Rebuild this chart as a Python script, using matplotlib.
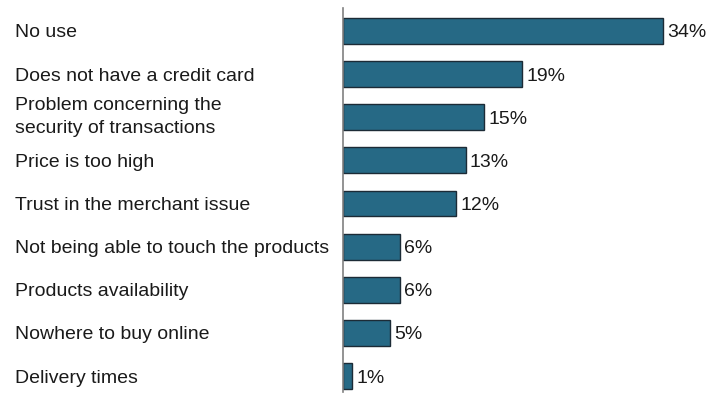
import matplotlib
matplotlib.use("Agg")
import matplotlib.pyplot as plt
from matplotlib.transforms import blended_transform_factory

plt.rcParams['font.family'] = ['Liberation Sans', 'DejaVu Sans']

categories = [
    "No use",
    "Does not have a credit card",
    "Problem concerning the\nsecurity of transactions",
    "Price is too high",
    "Trust in the merchant issue",
    "Not being able to touch the products",
    "Products availability",
    "Nowhere to buy online",
    "Delivery times",
]
values = [34, 19, 15, 13, 12, 6, 6, 5, 1]

W, H = 720, 394
fig = plt.figure(figsize=(W / 100, H / 100), dpi=100)
ax = fig.add_axes([343 / W, 2 / H, (W - 343) / W, 384 / H])

pos = list(range(len(categories)))
ax.barh(pos, values, height=0.6, color="#266985", edgecolor="#1c2b36", linewidth=1.0)

ax.set_xlim(0, 40)
ax.set_ylim(8.37, -0.53)

for s in ("top", "right", "bottom"):
    ax.spines[s].set_visible(False)
ax.spines["left"].set_color("#808080")
ax.spines["left"].set_linewidth(1.2)
ax.set_xticks([])
ax.set_yticks([])

trans = blended_transform_factory(fig.transFigure, ax.transData)
for p, c in zip(pos, categories):
    va = "center" if "\n" in c else "center_baseline"
    ax.text(15 / W, p, c, transform=trans, ha="left", va=va,
            fontsize=14, color="#1a1a1a", linespacing=1.5)

for p, v in zip(pos, values):
    ax.annotate(f"{v}%", xy=(v, p), xytext=(3, 0), textcoords="offset points",
                ha="left", va="center_baseline", fontsize=14, color="#1a1a1a")

fig.savefig("out.png", dpi=100)
